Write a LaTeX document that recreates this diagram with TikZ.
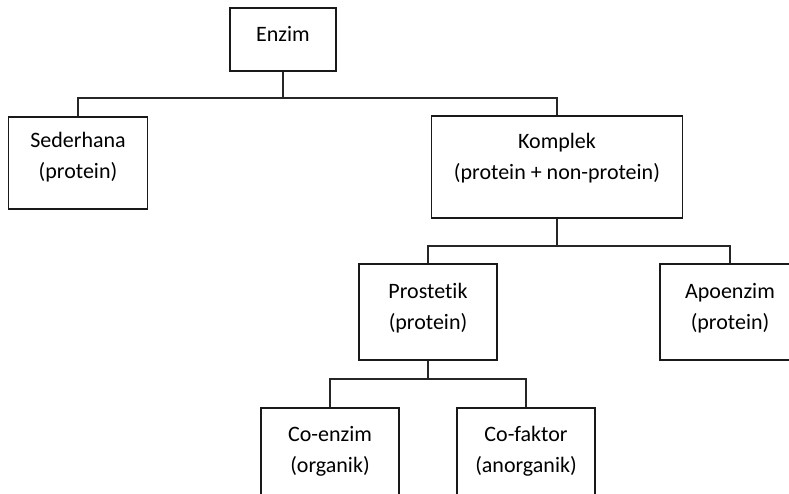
\documentclass[tikz,border=0pt]{standalone}
\usepackage{fontspec}
\setmainfont{Carlito}[Ligatures=NoCommon]
\usepackage{tikz}
\newcommand*{\busA}{98}
\newcommand*{\busB}{246}
\newcommand*{\busC}{379}
\usetikzlibrary{positioning}
\tikzset{boxstyle/.style={
    draw=black!90,% thin dark frame
    line width=1.3pt,
    rectangle,
    align=center,
    inner sep=0pt,
    text depth=16pt,% lifts the text a little inside the box
    font=\fontsize{22}{31}\selectfont
  },
  linkstyle/.style={
    draw=black!85,
    line width=1.3pt
  }
}
\begin{document}
\begin{tikzpicture}[x=1pt,y=-1pt]
    \clip (0,0) rectangle (789,493);
    \fill[white] (0,0) rectangle (789,493);

    \node[boxstyle,text depth=12pt,minimum width=106pt,minimum height=63pt] (enzim) at (283,39.5) {Enzim};
    \node[boxstyle,minimum width=139pt,minimum height=92pt] (sederhana) at (78,163) {Sederhana\\(protein)};
    \node[boxstyle,text depth=21pt,minimum width=251pt,minimum height=102pt] (komplek) at (557,167) {Komplek\\(protein + non-protein)};
    \node[boxstyle,text depth=12pt,minimum width=138pt,minimum height=96pt] (prostetik) at (428,312) {Prostetik\\(protein)};
    \node[boxstyle,text depth=12pt,minimum width=140pt,minimum height=96pt] (apoenzim) at (730,312) {Apoenzim\\(protein)};
    \node[boxstyle,text depth=6pt,minimum width=138pt,minimum height=88pt] (coenzim) at (330,452) {Co-enzim\\(organik)};
    \node[boxstyle,text depth=6pt,minimum width=138pt,minimum height=88pt] (cofaktor) at (526,452) {Co-faktor\\(anorganik)};

    % tree branches
    \draw[linkstyle] (enzim.south) -- (enzim.south |- 0,\busA) coordinate (b1);
    \draw[linkstyle] (sederhana.north) |- (b1) -| (komplek.north);
    \draw[linkstyle] (komplek.south) -- (komplek.south |- 0,\busB) coordinate (b2);
    \draw[linkstyle] (prostetik.north) |- (b2) -| (apoenzim.north);
    \draw[linkstyle] (prostetik.south) -- (prostetik.south |- 0,\busC) coordinate (b3);
    \draw[linkstyle] (coenzim.north) |- (b3) -| (cofaktor.north);
\end{tikzpicture}
\end{document}
